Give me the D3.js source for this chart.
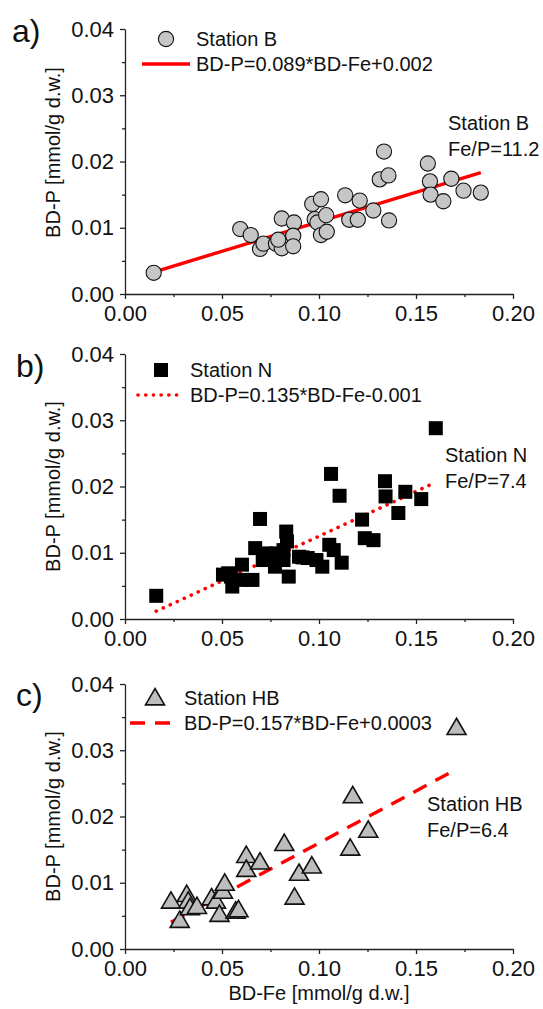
<!DOCTYPE html>
<html lang="en">
<head>
    <meta charset="UTF-8">
    <title>BD-P vs BD-Fe</title>
    <script src="https://d3js.org/d3.v7.min.js"></script>
    <style>
        body { margin: 0; background-color: white; }
        svg { display: block; font-family: "Liberation Sans", Arial, sans-serif; }
        .axis path, .axis line { stroke: #222; stroke-width: 1.3; }
        .axis text { font-size: 22px; fill: #111; font-family: "Liberation Sans", Arial, sans-serif; }
        .lbl { font-size: 20px; fill: #111; }
        .panel-id { font-size: 32px; fill: #111; }
    </style>
</head>
<body>
<script>
    // data
    const xTicks = [0, 0.05, 0.10, 0.15, 0.20];
    const xMinor = [0.025, 0.075, 0.125, 0.175];
    const yTicks = [0, 0.01, 0.02, 0.03, 0.04];
    const yMinor = [0.005, 0.015, 0.025, 0.035];

    const stationB_Fe = [0.0148, 0.0594, 0.0648, 0.0696, 0.0714, 0.0778, 0.0808, 0.0808, 0.0871, 0.0867, 0.0867, 0.079,
        0.0965, 0.101, 0.0978, 0.0992, 0.101, 0.104, 0.1037, 0.1135, 0.1156, 0.120, 0.121, 0.128, 0.1313, 0.1335,
        0.1358, 0.1361, 0.1561, 0.1572, 0.1575, 0.1641, 0.1682, 0.1745, 0.1834];
    const stationB_P = [0.0032, 0.0098, 0.0089, 0.0068, 0.0076, 0.0076, 0.0114, 0.0069, 0.0108, 0.0088, 0.0072, 0.0082,
        0.0136, 0.0143, 0.0113, 0.0108, 0.0089, 0.0094, 0.0119, 0.0149, 0.0112, 0.0112, 0.0141, 0.0126, 0.0173, 0.0215,
        0.0179, 0.0111, 0.0197, 0.0170, 0.0150, 0.0140, 0.0174, 0.0156, 0.0153];

    const stationN_Fe = [0.0161, 0.0505, 0.0532, 0.0553, 0.0546, 0.0603, 0.0603, 0.0657, 0.0671, 0.0696, 0.0728, 0.071,
        0.0773, 0.0781, 0.0817, 0.0831, 0.0835, 0.0817, 0.0844, 0.0897, 0.0942, 0.0987, 0.1017, 0.1053, 0.1076, 0.1062,
        0.1106, 0.1117, 0.1222, 0.1236, 0.1281, 0.134, 0.1343, 0.1409, 0.1445, 0.1527, 0.1602, 0.0915];
    const stationN_P = [0.0035, 0.0067, 0.0069, 0.0049, 0.0064, 0.0082, 0.0059, 0.0059, 0.0107, 0.0151, 0.0099, 0.0089,
        0.0079, 0.0099, 0.0104, 0.0132, 0.0117, 0.0089, 0.0064, 0.0094, 0.0092, 0.0089, 0.0079, 0.0112, 0.0104, 0.0219,
        0.0186, 0.0085, 0.0150, 0.0122, 0.0119, 0.0208, 0.0185, 0.0160, 0.0192, 0.0181, 0.0288, 0.0093];

    const stationHB_Fe = [0.0237, 0.0282, 0.0318, 0.0326, 0.0335, 0.0371, 0.0446, 0.0469, 0.0487, 0.0505, 0.0514, 0.057,
        0.0585, 0.0625, 0.0625, 0.0696, 0.0821, 0.0874, 0.0897, 0.0963, 0.1161, 0.1174, 0.1254, 0.1709];
    const stationHB_P = [0.0072, 0.0043, 0.0082, 0.0072, 0.0062, 0.0064, 0.0077, 0.0072, 0.0052, 0.0087, 0.0099, 0.0057,
        0.0059, 0.0141, 0.0120, 0.0131, 0.0159, 0.0078, 0.0114, 0.0125, 0.0152, 0.0231, 0.0179, 0.0334];

    const stations = ["Station B", "Station N", "Station HB"];
    const equations = ["BD-P=0.089*BD-Fe+0.002", "BD-P=0.135*BD-Fe-0.001", "BD-P=0.157*BD-Fe+0.0003"];
    const ratios = ["Fe/P=11.2", "Fe/P=7.4", "Fe/P=6.4"];
    const slopes = [0.089, 0.135, 0.157];
    const intercepts = [0.002, -0.001, 0.0003];
    const panelIds = ["a)", "b)", "c)"];

    const W = 543, H = 1009;
    const svg = d3.select("body").append("svg").attr("width", W).attr("height", H);

    const x = d3.scaleLinear().domain([0, 0.2]).range([125, 513]);
    const fmt = d3.format(".2f");

    const panels = [
        {fe: stationB_Fe, p: stationB_P, top: 29, marker: "circle", dash: null, idX: 12, idY: 42,
            legY: 39, legX: 166, txtX: 196, lineX0: 142, lineX1: 190, annX: 448, annY: 130, labShift: -9},
        {fe: stationN_Fe, p: stationN_P, top: 354, marker: "square", dash: "0.1 7.6", idX: 16, idY: 377,
            legY: 370, legX: 161, txtX: 190, lineX0: 138, lineX1: 183, annX: 445, annY: 462, labShift: 0},
        {fe: stationHB_Fe, p: stationHB_P, top: 684, marker: "triangle", dash: "15 10", idX: 16, idY: 706,
            legY: 698, legX: 155, txtX: 184, lineX0: 130, lineX1: 180, annX: 427, annY: 811, labShift: 0}
    ];

    function drawMarker(g, type, cx, cy) {
        if (type === "circle") {
            g.append("circle").attr("cx", cx).attr("cy", cy).attr("r", 7.6)
                .attr("fill", "#c6c6c6").attr("stroke", "#111").attr("stroke-width", 1.1);
        } else if (type === "square") {
            g.append("rect").attr("x", cx - 7).attr("y", cy - 7).attr("width", 14).attr("height", 14)
                .attr("fill", "#000");
        } else {
            const s = 9.5;
            g.append("path")
                .attr("d", `M${cx},${cy - s}L${cx + s},${cy + s * 0.72}L${cx - s},${cy + s * 0.72}Z`)
                .attr("fill", "#bdbdbd").attr("stroke", "#111").attr("stroke-width", 1.6)
                .attr("stroke-linejoin", "miter");
        }
    }

    panels.forEach((pn, i) => {
        const y = d3.scaleLinear().domain([0, 0.04]).range([pn.top + 265, pn.top]);
        const g = svg.append("g");

        // axes
        g.append("g").attr("class", "axis")
            .attr("transform", `translate(0,${y(0)})`)
            .call(d3.axisBottom(x).tickValues(xTicks).tickFormat(fmt).tickSize(5).tickSizeOuter(0).tickPadding(6));
        g.append("g").attr("class", "axis")
            .attr("transform", `translate(0,${y(0)})`)
            .call(d3.axisBottom(x).tickValues(xMinor).tickFormat("").tickSize(3).tickSizeOuter(0))
            .select(".domain").remove();
        g.append("g").attr("class", "axis")
            .attr("transform", `translate(${x(0)},0)`)
            .call(d3.axisLeft(y).tickValues(yTicks).tickFormat(fmt).tickSize(5).tickSizeOuter(0).tickPadding(6));
        g.append("g").attr("class", "axis")
            .attr("transform", `translate(${x(0)},0)`)
            .call(d3.axisLeft(y).tickValues(yMinor).tickFormat("").tickSize(3).tickSizeOuter(0))
            .select(".domain").remove();

        // y label
        const ly = (y(0) + y(0.04)) / 2 + pn.labShift;
        g.append("text").attr("class", "lbl")
            .attr("transform", `translate(60,${ly}) rotate(-90)`)
            .attr("text-anchor", "middle")
            .text("BD-P [mmol/g d.w.]");

        // fit line
        const xs = d3.extent(pn.fe);
        const line = g.append("line")
            .attr("x1", x(xs[0])).attr("y1", y(slopes[i] * xs[0] + intercepts[i]))
            .attr("x2", x(xs[1])).attr("y2", y(slopes[i] * xs[1] + intercepts[i]))
            .attr("stroke", "#ff0000").attr("stroke-width", pn.dash === "0.1 7.6" ? 3.6 : 3.4);
        if (pn.dash) line.attr("stroke-dasharray", pn.dash);
        if (pn.dash === "0.1 7.6") line.attr("stroke-linecap", "round");

        // points
        const pts = g.append("g");
        pn.fe.forEach((fe, k) => drawMarker(pts, pn.marker, x(fe), y(pn.p[k])));

        // legend
        drawMarker(g, pn.marker, pn.legX, pn.legY);
        g.append("text").attr("class", "lbl").attr("x", pn.txtX).attr("y", pn.legY + 7).text(stations[i]);
        const ll = g.append("line")
            .attr("x1", pn.lineX0).attr("x2", pn.lineX1)
            .attr("y1", pn.legY + 25).attr("y2", pn.legY + 25)
            .attr("stroke", "#ff0000").attr("stroke-width", pn.dash === "0.1 7.6" ? 3.6 : 3.4);
        if (pn.dash) ll.attr("stroke-dasharray", pn.dash);
        if (pn.dash === "0.1 7.6") ll.attr("stroke-linecap", "round");
        g.append("text").attr("class", "lbl").attr("x", pn.txtX).attr("y", pn.legY + 32).text(equations[i]);

        // annotation
        g.append("text").attr("class", "lbl").attr("x", pn.annX).attr("y", pn.annY).text(stations[i]);
        g.append("text").attr("class", "lbl").attr("x", pn.annX).attr("y", pn.annY + 26).text(ratios[i]);

        // panel id
        g.append("text").attr("class", "panel-id").attr("x", pn.idX).attr("y", pn.idY).text(panelIds[i]);
    });

    svg.append("text").attr("class", "lbl")
        .attr("x", (x(0) + x(0.2)) / 2).attr("y", 1000)
        .attr("text-anchor", "middle")
        .text("BD-Fe [mmol/g d.w.]");
</script>
</body>
</html>
